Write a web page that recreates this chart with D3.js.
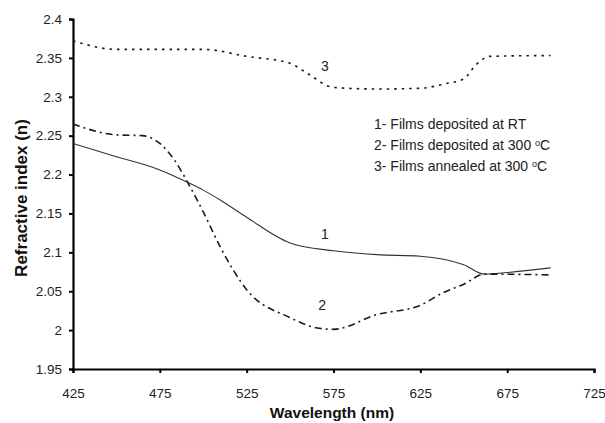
<!DOCTYPE html>
<html>
<head>
<meta charset="utf-8">
<script src="https://cdn.jsdelivr.net/npm/d3@7"></script>
<style>
  html, body { margin: 0; padding: 0; background: #fff; }
  svg { display: block; font-family: "Liberation Sans", Arial, sans-serif; }
</style>
</head>
<body>
<svg id="chart" width="605" height="423"></svg>
<script>
// Refractive index vs wavelength for three film treatments
const xTicks = [425, 475, 525, 575, 625, 675, 725];
const yTicks = [1.95, 2.0, 2.05, 2.1, 2.15, 2.2, 2.25, 2.3, 2.35, 2.4];

// 1 - films deposited at RT
const wl1 = [425, 450, 475, 491, 500, 510, 525, 550, 575, 600, 625, 650, 662, 675, 700];
const n1  = [2.240, 2.223, 2.206, 2.190, 2.180, 2.167, 2.145, 2.112, 2.102, 2.097, 2.095, 2.084, 2.072, 2.074, 2.080];

// 2 - films deposited at 300 °C
const wl2 = [425, 450, 465, 475, 483, 491, 500, 510, 525, 550, 565, 575, 600, 625, 638, 650, 662, 700];
const n2  = [2.265, 2.251, 2.250, 2.240, 2.220, 2.190, 2.152, 2.106, 2.052, 2.016, 2.003, 2.001, 2.020, 2.032, 2.048, 2.059, 2.072, 2.071];

// 3 - films annealed at 300 °C
const wl3 = [425, 450, 500, 525, 550, 560, 575, 600, 625, 640, 650, 657, 665, 700];
const n3  = [2.372, 2.361, 2.361, 2.352, 2.343, 2.330, 2.312, 2.310, 2.311, 2.317, 2.323, 2.341, 2.352, 2.353];

const legendLines = [
  ["1- Films deposited at RT", null],
  ["2- Films deposited at 300 ", "C"],
  ["3- Films annealed at 300 ", "C"]
];

const svg = d3.select("#chart");
const plotLeft = 73, plotRight = 594, plotTop = 19, plotBottom = 369;

const x = d3.scaleLinear().domain([425, 725]).range([plotLeft, plotRight]);
const y = d3.scaleLinear().domain([1.95, 2.4]).range([plotBottom, plotTop]);

const ink = "#1a1a1a";

// Axes
const xAxis = d3.axisBottom(x).tickValues(xTicks).tickFormat(d3.format("d"))
  .tickSize(4).tickPadding(15);
const yAxis = d3.axisLeft(y).tickValues(yTicks).tickFormat(d => String(+d.toFixed(2)))
  .tickSize(4).tickPadding(7);

const gx = svg.append("g").attr("transform", `translate(0,${plotBottom})`).call(xAxis);
const gy = svg.append("g").attr("transform", `translate(${plotLeft},0)`).call(yAxis);

[gx, gy].forEach(g => {
  g.select(".domain").attr("stroke", "#000").attr("stroke-width", 2.2);
  g.selectAll(".tick line").attr("stroke", "#000").attr("stroke-width", 2);
  g.selectAll(".tick text").attr("fill", "#222").style("font-size", "13.5px")
    .style("font-family", "'Liberation Sans', Arial, sans-serif");
});

// Series
const line = d3.line().curve(d3.curveMonotoneX).x(d => x(d[0])).y(d => y(d[1]));
const zip = (a, b) => a.map((v, i) => [v, b[i]]);

svg.append("path").datum(zip(wl1, n1)).attr("d", line)
  .attr("fill", "none").attr("stroke", "#333").attr("stroke-width", 1.1);

svg.append("path").datum(zip(wl2, n2)).attr("d", line)
  .attr("fill", "none").attr("stroke", ink).attr("stroke-width", 1.6)
  .attr("stroke-dasharray", "7,4,2,4");

svg.append("path").datum(zip(wl3, n3)).attr("d", line)
  .attr("fill", "none").attr("stroke", ink).attr("stroke-width", 1.6)
  .attr("stroke-dasharray", "2.5,5");

// Curve numbers
const numLabels = [["1", 570, 2.124], ["2", 568.5, 2.032], ["3", 570, 2.340]];
svg.selectAll("text.num").data(numLabels).enter().append("text")
  .attr("class", "num")
  .attr("x", d => x(d[1])).attr("y", d => y(d[2]))
  .attr("text-anchor", "middle").attr("dy", "0.35em")
  .attr("fill", "#222").style("font-size", "14px")
  .text(d => d[0]);

// Legend
const lg = svg.append("g").attr("transform", "translate(374,0)");
legendLines.forEach((l, i) => {
  const t = lg.append("text").attr("x", 0).attr("y", 129 + i * 21)
    .attr("fill", "#222").style("font-size", "14px");
  t.append("tspan").text(l[0]);
  if (l[1]) {
    t.append("tspan").attr("dy", -4).style("font-size", "9px").text("o");
    t.append("tspan").attr("dy", 4).text(l[1]);
  }
});

// Axis titles
svg.append("text").attr("x", 332).attr("y", 418).attr("text-anchor", "middle")
  .attr("fill", "#111").style("font-size", "15.5px").style("font-weight", "bold")
  .text("Wavelength (nm)");

svg.append("text").attr("transform", "translate(27,198) rotate(-90)")
  .attr("text-anchor", "middle")
  .attr("fill", "#111").style("font-size", "17px").style("font-weight", "bold")
  .text("Refractive index (n)");
</script>
</body>
</html>
